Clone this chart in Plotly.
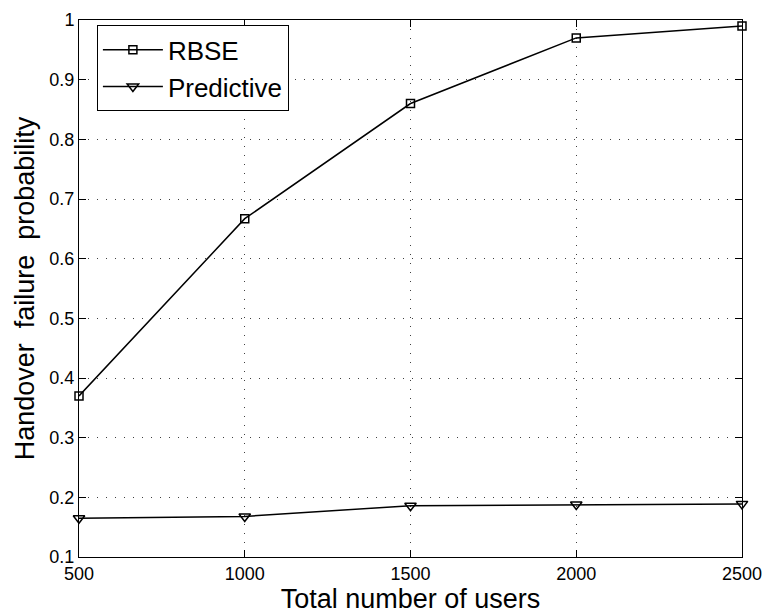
import plotly.graph_objects as go

# Data
users = [500, 1000, 1500, 2000, 2500]
rbse = [0.37, 0.667, 0.86, 0.97, 0.99]
predictive = [0.165, 0.168, 0.186, 0.188, 0.189]
y_ticks = [0.1, 0.2, 0.3, 0.4, 0.5, 0.6, 0.7, 0.8, 0.9, 1.0]
y_tick_text = ["0.1", "0.2", "0.3", "0.4", "0.5", "0.6", "0.7", "0.8", "0.9", "1"]

FONT = "Liberation Sans, Arial, Helvetica, sans-serif"

fig = go.Figure()
fig.add_trace(go.Scatter(
    x=users, y=rbse, name="RBSE", mode="lines+markers",
    line=dict(color="black", width=1.5),
    marker=dict(symbol="square-open", size=8, color="black", line=dict(width=1.5)),
    cliponaxis=False,
))
fig.add_trace(go.Scatter(
    x=users, y=predictive, name="Predictive", mode="lines+markers",
    line=dict(color="black", width=1.5),
    marker=dict(symbol="triangle-down-open", size=10, color="black", line=dict(width=1.5)),
    cliponaxis=False,
))

axis_common = dict(
    showline=True, linecolor="black", linewidth=1, mirror="ticks",
    ticks="inside", ticklen=7, tickcolor="black", tickwidth=1,
    showgrid=True, gridcolor="rgba(0,0,0,0.75)", gridwidth=1, griddash="1px,8px",
    zeroline=False, tickfont=dict(family=FONT, size=18, color="black"),
)

fig.update_layout(
    width=772, height=616,
    margin=dict(l=79, r=23, t=10, b=59),
    paper_bgcolor="white", plot_bgcolor="white",
    font=dict(family=FONT, color="black"),
    showlegend=True,
    legend=dict(
        x=0.027, y=0.99, xanchor="left", yanchor="top",
        bgcolor="white", bordercolor="black", borderwidth=1,
        font=dict(family=FONT, size=26, color="black"),
        itemwidth=60, tracegroupgap=0,
    ),
    xaxis=dict(
        range=[500, 2500], tickvals=users,
        title=dict(text="Total number of users", font=dict(family=FONT, size=27), standoff=4),
        **axis_common,
    ),
    yaxis=dict(
        range=[0.1, 1.0], tickvals=y_ticks, ticktext=y_tick_text,
        title=dict(text="Handover  failure  probability", font=dict(family=FONT, size=27), standoff=6),
        **axis_common,
    ),
)

fig.write_html("out.html")
